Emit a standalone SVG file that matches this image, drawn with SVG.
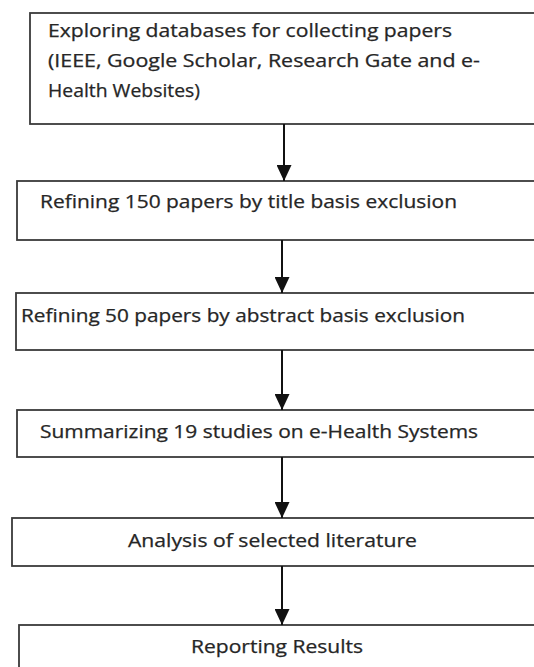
<svg xmlns="http://www.w3.org/2000/svg" width="534" height="667" viewBox="0 0 534 667">
<defs>
<style>
.box{fill:#fff;stroke:#3a3a3a;stroke-width:1.8}
.t{font-family:"Open Sans","Liberation Sans",sans-serif;font-size:17.5px;fill:#262626;stroke:#262626;stroke-width:0.25}
.c{stroke:#111;stroke-width:2;fill:none}
</style>
<marker id="ah" markerWidth="16" markerHeight="15" refX="16" refY="7.5" orient="auto" markerUnits="userSpaceOnUse" viewBox="0 0 16 15">
<path d="M0,0 L16,7.5 L0,15 Z" fill="#111"/>
</marker>
</defs>
<rect width="534" height="667" fill="#fff"/>
<g id="n1">
<rect class="box" x="30" y="13" width="520" height="111"/>
<text class="t" x="48" y="37" textLength="404" lengthAdjust="spacingAndGlyphs">Exploring databases for collecting papers</text>
<text class="t" x="48" y="67" textLength="432" lengthAdjust="spacingAndGlyphs">(IEEE, Google Scholar, Research Gate and e-</text>
<text class="t" x="48" y="97" textLength="152" lengthAdjust="spacingAndGlyphs">Health Websites)</text>
</g>
<g id="n2">
<rect class="box" x="17" y="181" width="530" height="59"/>
<text class="t" x="40" y="208" textLength="417" lengthAdjust="spacingAndGlyphs">Refining 150 papers by title basis exclusion</text>
</g>
<g id="n3">
<rect class="box" x="16" y="293" width="530" height="57"/>
<text class="t" x="21" y="322" textLength="444" lengthAdjust="spacingAndGlyphs">Refining 50 papers by abstract basis exclusion</text>
</g>
<g id="n4">
<rect class="box" x="17" y="410" width="530" height="47"/>
<text class="t" x="40" y="438" textLength="438" lengthAdjust="spacingAndGlyphs">Summarizing 19 studies on e-Health Systems</text>
</g>
<g id="n5">
<rect class="box" x="12" y="518" width="535" height="48"/>
<text class="t" x="128" y="547" textLength="289" lengthAdjust="spacingAndGlyphs">Analysis of selected literature</text>
</g>
<g id="n6">
<rect class="box" x="19" y="625" width="530" height="60"/>
<text class="t" x="191" y="653" textLength="172" lengthAdjust="spacingAndGlyphs">Reporting Results</text>
</g>
<g id="connectors">
<line class="c" x1="284" y1="124" x2="284" y2="181" marker-end="url(#ah)"/>
<line class="c" x1="282" y1="240" x2="282" y2="293" marker-end="url(#ah)"/>
<line class="c" x1="282" y1="350" x2="282" y2="410" marker-end="url(#ah)"/>
<line class="c" x1="282" y1="457" x2="282" y2="518" marker-end="url(#ah)"/>
<line class="c" x1="282" y1="566" x2="282" y2="625" marker-end="url(#ah)"/>
</g>
</svg>
